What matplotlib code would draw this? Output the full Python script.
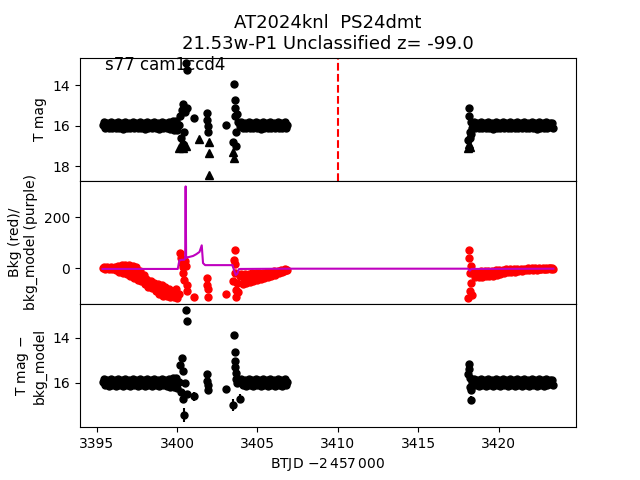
import matplotlib
matplotlib.use("Agg")
import matplotlib.pyplot as plt

# shared observation times (BTJD - 2457000)
btjd = [
    # orbit 1, before gap
    3395.375, 3395.450, 3395.525, 3395.600, 3395.675, 3395.750, 3395.825, 3395.900, 3395.975, 3396.050,
    3396.125, 3396.200, 3396.275, 3396.350, 3396.425, 3396.500, 3396.575, 3396.650, 3396.725, 3396.800,
    3396.875, 3396.950, 3397.025, 3397.100, 3397.175, 3397.250, 3397.325, 3397.400, 3397.475, 3397.550,
    3397.625, 3397.700, 3397.775, 3397.850, 3397.925, 3398.000, 3398.075, 3398.150, 3398.225, 3398.300,
    3398.375, 3398.450, 3398.525, 3398.600, 3398.675, 3398.750, 3398.825, 3398.900, 3398.975, 3399.050,
    3399.125, 3399.200, 3399.275, 3399.350, 3399.425, 3399.500, 3399.575, 3399.650, 3399.725, 3399.800,
    3399.875, 3399.950, 3400.025, 3400.100,
    # scattered points
    3400.20, 3400.25, 3400.30, 3400.35, 3400.40, 3400.45, 3400.50, 3400.55, 3400.60, 3400.65,
    3401.04,
    3401.85, 3401.88, 3401.90, 3401.92,
    3403.05,
    3403.50, 3403.55, 3403.58, 3403.60, 3403.62, 3403.65, 3403.70, 3403.75, 3403.80, 3403.90,
    # orbit 1, after gap
    3404.000, 3404.075, 3404.150, 3404.225, 3404.300, 3404.375, 3404.450, 3404.525, 3404.600, 3404.675,
    3404.750, 3404.825, 3404.900, 3404.975, 3405.050, 3405.125, 3405.200, 3405.275, 3405.350, 3405.425,
    3405.500, 3405.575, 3405.650, 3405.725, 3405.800, 3405.875, 3405.950, 3406.025, 3406.100, 3406.175,
    3406.250, 3406.325, 3406.400, 3406.475, 3406.550, 3406.625, 3406.700, 3406.775, 3406.850,
    # orbit 2 start
    3418.10, 3418.15, 3418.18, 3418.20, 3418.23, 3418.26, 3418.30, 3418.35,
    3418.450, 3418.525, 3418.600, 3418.675, 3418.750, 3418.825, 3418.900, 3418.975, 3419.050, 3419.125,
    3419.200, 3419.275, 3419.350, 3419.425, 3419.500, 3419.575, 3419.650, 3419.725, 3419.800, 3419.875,
    3419.950, 3420.025, 3420.100, 3420.175, 3420.250, 3420.325, 3420.400, 3420.475, 3420.550, 3420.625,
    3420.700, 3420.775, 3420.850, 3420.925, 3421.000, 3421.075, 3421.150, 3421.225, 3421.300, 3421.375,
    3421.450, 3421.525, 3421.600, 3421.675, 3421.750, 3421.825, 3421.900, 3421.975, 3422.050, 3422.125,
    3422.200, 3422.275, 3422.350, 3422.425, 3422.500, 3422.575, 3422.650, 3422.725, 3422.800, 3422.875,
    3422.950, 3423.025, 3423.100, 3423.175, 3423.250, 3423.325, 3423.400,
]

# T mag (top panel, detections)
tmag = [
    15.96, 15.80, 16.10, 15.95, 15.84, 16.12, 15.98, 15.82, 16.08, 15.94,
    15.86, 16.12, 15.97, 15.80, 16.10, 15.95, 15.84, 16.14, 15.99, 15.82,
    16.08, 15.93, 15.86, 16.12, 15.96, 15.80, 16.10, 15.98, 15.84, 16.12,
    15.95, 15.82, 16.08, 15.97, 15.86, 16.14, 15.94, 15.80, 16.10, 15.98,
    15.84, 16.12, 15.95, 15.82, 16.08, 15.96, 15.86, 16.14, 15.99, 15.80,
    16.10, 15.93, 15.84, 16.12, 15.97, 15.82, 16.16, 15.95, 15.78, 16.18,
    15.96, 15.76, 16.20, 15.95,
    15.50, 16.60, 15.20, 16.90, 14.90, 16.30, 15.30, 12.91, 13.24, 15.10,
    15.62,
    15.35, 15.70, 16.00, 16.28,
    15.95,
    16.80, 13.95, 14.70, 15.10, 15.50, 16.30, 17.00, 15.40, 15.80, 16.00,
    15.82, 16.10, 15.96, 15.86, 16.12, 15.98, 15.80, 16.08, 15.94, 15.84,
    16.12, 15.97, 15.82, 16.10, 15.95, 15.86, 16.14, 15.99, 15.80, 16.08,
    15.93, 15.84, 16.12, 15.96, 15.82, 16.10, 15.98, 15.86, 16.12, 15.95,
    15.80, 16.08, 15.97, 15.84, 16.12, 15.94, 15.82, 16.10, 15.96,
    16.70, 15.10, 15.50, 16.30, 16.60, 15.80, 16.40, 16.10,
    15.82, 16.10, 15.96, 15.86, 16.12, 15.98, 15.80, 16.08, 15.94, 15.84,
    16.12, 15.97, 15.82, 16.10, 15.95, 15.86, 16.14, 15.99, 15.80, 16.08,
    15.93, 15.84, 16.12, 15.96, 15.82, 16.10, 15.98, 15.86, 16.12, 15.95,
    15.80, 16.08, 15.97, 15.84, 16.12, 15.94, 15.82, 16.10, 15.96, 15.86,
    16.12, 15.98, 15.80, 16.08, 15.94, 15.84, 16.12, 15.97, 15.82, 16.10,
    15.95, 15.86, 16.14, 15.99, 15.80, 16.08, 15.93, 15.84, 16.12, 15.96,
    15.82, 16.10, 15.98, 15.86, 16.04, 15.84, 16.10,
]

# upper limits (triangles, top panel)
lim_t = [3400.10, 3400.35, 3400.55, 3401.34, 3401.98, 3401.98, 3401.98, 3403.50, 3403.53, 3418.10, 3418.15, 3418.22]
lim_mag = [17.10, 17.10, 17.00, 16.66, 16.80, 17.35, 18.43, 17.30, 17.60, 17.10, 16.90, 17.05]

# background flux (red points, middle panel)
bkg = [
    -1, 3, -4, 0, 4, -3, 1, 3, -5, -1,
    6, -8, -2, 9, -14, -3, 11, -18, -4, 12,
    -24, -6, 12, -30, -10, 10, -38, -14, 4, -46,
    -20, -10, -52, -30, -25, -62, -42, -45, -74, -60,
    -50, -80, -66, -60, -90, -75, -64, -100, -84, -68,
    -108, -88, -75, -110, -92, -82, -112, -100, -90, -114,
    -102, -82, -118, -100,
    58, 40, 20, 5, -20, -45, 30, 10, -67, -90,
    -115,
    -40, -67, -82, -112,
    -102,
    -50, 31, 71, 15, -20, -112, -85, -60, -95, -30,
    -22, -62, -40, -22, -58, -38, -21, -54, -36, -20,
    -50, -33, -20, -46, -31, -19, -42, -29, -18, -38,
    -26, -16, -34, -24, -14, -30, -21, -12, -25, -18,
    -10, -20, -14, -8, -15, -11, -5, -9, -6,
    -119, 71, 40, -20, -90, 10, -60, -105,
    -15, -36, -25, -14, -35, -24, -13, -33, -22, -12,
    -31, -21, -11, -30, -20, -10, -29, -19, -9, -28,
    -17, -8, -24, -15, -6, -20, -12, -5, -16, -10,
    -4, -15, -9, -3, -14, -8, -3, -12, -7, -2,
    -11, -6, -2, -9, -5, -1, -8, -4, -1, -7,
    -3, 0, -6, -3, 0, -5, -2, 1, -5, -2,
    1, -4, -1, 1, -3, 0, -3,
]

# background model (purple line, middle panel)
model_t = [3395.375, 3400.05, 3400.15, 3400.30, 3400.45, 3400.51, 3400.54, 3400.57, 3400.62, 3400.75, 3401.00, 3401.20, 3401.40, 3401.54, 3401.62, 3401.75, 3402.50, 3403.45, 3403.55, 3403.65, 3403.75, 3403.85, 3403.95, 3404.10, 3406.85, 3418.10, 3418.20, 3418.30, 3423.40]
model_v = [-3, -3, 31, 33, 33, 40, 322, 40, 42, 44, 48, 55, 64, 90, 20, 12, 12, 12, -8, -27, -22, -4, -3, -3, -2, -2, -10, -3, -2]

# T mag - bkg_model (bottom panel)
tmag_corr = [
    15.98, 15.84, 16.12, 15.98, 15.86, 16.14, 16.00, 15.84, 16.10, 15.96,
    15.88, 16.14, 15.99, 15.82, 16.12, 15.97, 15.86, 16.16, 16.01, 15.84,
    16.10, 15.95, 15.88, 16.14, 15.98, 15.82, 16.12, 16.00, 15.86, 16.14,
    15.97, 15.84, 16.10, 15.99, 15.88, 16.16, 15.96, 15.82, 16.12, 16.00,
    15.86, 16.14, 15.97, 15.84, 16.10, 15.98, 15.88, 16.16, 16.01, 15.82,
    16.12, 15.95, 15.86, 16.14, 15.99, 15.84, 16.18, 15.97, 15.80, 16.20,
    15.98, 15.78, 16.22, 15.97,
    15.20, 16.40, 14.90, 16.70, 15.50, 17.42, 16.00, 12.78, 13.26, 16.50,
    16.60,
    15.60, 15.90, 16.10, 16.30,
    16.29,
    16.98, 13.87, 14.62, 15.03, 15.30, 15.55, 15.83, 16.00, 15.95, 16.70,
    15.84, 16.12, 15.98, 15.88, 16.14, 16.00, 15.82, 16.10, 15.96, 15.86,
    16.14, 15.99, 15.84, 16.12, 15.97, 15.88, 16.16, 16.01, 15.82, 16.10,
    15.95, 15.86, 16.14, 15.98, 15.84, 16.12, 16.00, 15.88, 16.14, 15.97,
    15.82, 16.10, 15.99, 15.86, 16.14, 15.96, 15.84, 16.12, 15.98,
    15.60, 15.17, 15.40, 16.20, 15.80, 16.77, 16.30, 15.95,
    15.84, 16.12, 15.98, 15.88, 16.14, 16.00, 15.82, 16.10, 15.96, 15.86,
    16.14, 15.99, 15.84, 16.12, 15.97, 15.88, 16.16, 16.01, 15.82, 16.10,
    15.95, 15.86, 16.14, 15.98, 15.84, 16.12, 16.00, 15.88, 16.14, 15.97,
    15.82, 16.10, 15.99, 15.86, 16.14, 15.96, 15.84, 16.12, 15.98, 15.88,
    16.14, 16.00, 15.82, 16.10, 15.96, 15.86, 16.14, 15.99, 15.84, 16.12,
    15.97, 15.88, 16.16, 16.01, 15.82, 16.10, 15.95, 15.86, 16.14, 15.98,
    15.84, 16.12, 16.00, 15.88, 16.06, 15.86, 16.12,
]
tmag_corr_err = [
    0.03, 0.04, 0.03, 0.035, 0.03, 0.04, 0.03, 0.035, 0.03, 0.04,
    0.03, 0.04, 0.03, 0.035, 0.03, 0.04, 0.03, 0.035, 0.03, 0.04,
    0.03, 0.04, 0.03, 0.035, 0.03, 0.04, 0.03, 0.035, 0.03, 0.04,
    0.03, 0.04, 0.03, 0.035, 0.03, 0.04, 0.03, 0.035, 0.03, 0.04,
    0.03, 0.04, 0.03, 0.035, 0.03, 0.04, 0.03, 0.035, 0.03, 0.04,
    0.03, 0.04, 0.03, 0.035, 0.03, 0.04, 0.03, 0.035, 0.03, 0.04,
    0.03, 0.04, 0.03, 0.05,
    0.05, 0.10, 0.04, 0.15, 0.06, 0.30, 0.08, 0.02, 0.02, 0.12,
    0.20,
    0.08, 0.10, 0.12, 0.15,
    0.10,
    0.25, 0.02, 0.03, 0.04, 0.05, 0.06, 0.08, 0.08, 0.08, 0.20,
    0.03, 0.04, 0.03, 0.035, 0.03, 0.04, 0.03, 0.035, 0.03, 0.04,
    0.03, 0.04, 0.03, 0.035, 0.03, 0.04, 0.03, 0.035, 0.03, 0.04,
    0.03, 0.04, 0.03, 0.035, 0.03, 0.04, 0.03, 0.035, 0.03, 0.04,
    0.03, 0.04, 0.03, 0.035, 0.03, 0.04, 0.03, 0.035, 0.03,
    0.06, 0.04, 0.05, 0.10, 0.07, 0.18, 0.12, 0.08,
    0.03, 0.04, 0.03, 0.035, 0.03, 0.04, 0.03, 0.035, 0.03, 0.04,
    0.03, 0.04, 0.03, 0.035, 0.03, 0.04, 0.03, 0.035, 0.03, 0.04,
    0.03, 0.04, 0.03, 0.035, 0.03, 0.04, 0.03, 0.035, 0.03, 0.04,
    0.03, 0.04, 0.03, 0.035, 0.03, 0.04, 0.03, 0.035, 0.03, 0.04,
    0.03, 0.04, 0.03, 0.035, 0.03, 0.04, 0.03, 0.035, 0.03, 0.04,
    0.03, 0.04, 0.03, 0.035, 0.03, 0.04, 0.03, 0.035, 0.03, 0.04,
    0.03, 0.04, 0.03, 0.035, 0.03, 0.04, 0.03,
]

peak_t = 3410.0

fig, (ax1, ax2, ax3) = plt.subplots(3, 1, sharex=True, figsize=(6.4, 4.8), dpi=100)
fig.subplots_adjust(hspace=0)

ax1.plot(btjd, tmag, 'o', color='k', ms=5)
ax1.plot(lim_t, lim_mag, '^', color='k', ms=6)
ax1.axvline(peak_t, color='r', ls='--', lw=1.5)
ax1.invert_yaxis()
ax1.set_ylabel('T mag')
ax1.text(0.05, 0.9, 's77 cam1ccd4', transform=ax1.transAxes, fontsize=12)
ax1.set_title('AT2024knl  PS24dmt\n21.53w-P1 Unclassified z= -99.0', fontsize=13)

ax2.plot(btjd, bkg, 'o', color='r', ms=5)
ax2.plot(model_t, model_v, '-', color='m', lw=1.5)
ax2.set_ylabel('Bkg (red)/\nbkg_model (purple)')

ax3.errorbar(btjd, tmag_corr, yerr=tmag_corr_err, fmt='o', color='k', ms=5)
ax3.invert_yaxis()
ax3.set_ylabel('T mag $-$\nbkg_model')
ax3.set_xlabel(r'BTJD $-2\,457\,000$')

fig.savefig('out.png', dpi=100)
